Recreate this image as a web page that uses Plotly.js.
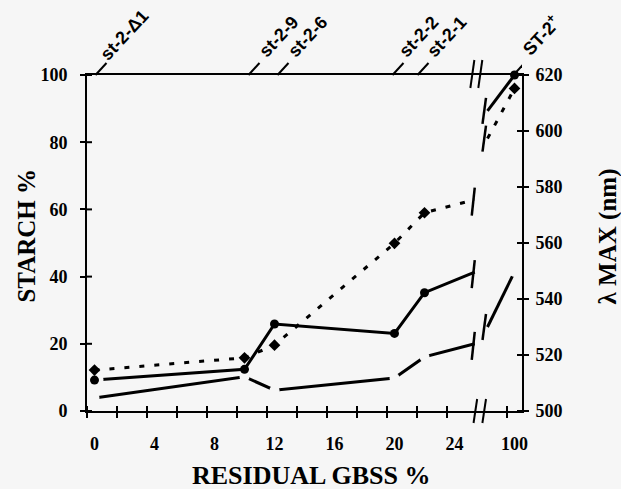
<!DOCTYPE html>
<html><head><meta charset="utf-8">
<script src="https://cdn.plot.ly/plotly-3.0.1.min.js"></script>
<style>html,body{margin:0;padding:0;background:#f6f6f6}</style>
</head><body><div id="chart" style="width:621px;height:489px"></div>
<script>
// strains and their residual GBSS (%)
const strains = ['st-2-Δ1', 'st-2-9', 'st-2-6', 'st-2-2', 'st-2-1', 'ST-2<sup>+</sup>'];
const gbss = [0, 10, 12, 20, 22, 100];
// starch amount (%) – solid line with dots (left axis)
const starchPct = [9.2, 12.4, 25.9, 23.1, 35.2, 100];
// amylose (%) – broken line (left axis)
const amylosePct = [3.9, 10.2, 6.2, 9.8, 16.1, 41.4];
// lambda max (nm) – dotted line with diamonds (right axis)
const lambdaMax = [514.6, 519.0, 523.5, 559.9, 570.8, 615.2];
// where each line meets the axis break: [before break, after break]
const breakGbss = [25.35, 96];
const starchBreak = [41.3, 89.3];
const amyloseBreak = [20.0, 25.0];
const lambdaBreak = [575.5, 597.3];
// axis ticks
const xTickValues = [0, 4, 8, 12, 16, 20, 24, 100];
const xTickLabels = ['0', '4', '8', '12', '16', '20', '24', '100'];
const xMinorValues = [0, 2, 4, 6, 8, 10, 12, 14, 16, 18, 20, 22, 24, 100];
const yLeftTicks = [0, 20, 40, 60, 80, 100];
const yRightTicks = [500, 520, 540, 560, 580, 600, 620];

// broken x axis: 0..~26 linear, the upper part (~96..100) squeezed behind the break
function pos(x) { return x > 50 ? 28 - (100 - x) * 0.45 : x; }

const BG = '#f6f6f6';
const INK = '#000000';
const serif = 'Liberation Serif, Times New Roman, serif';
const sans = 'Liberation Sans, Arial, sans-serif';

function brokenSeries(vals, brk) {
  const xs = gbss.slice(0, 5).concat([breakGbss[0], null, breakGbss[1], gbss[5]]).map(v => v === null ? null : pos(v));
  const ys = vals.slice(0, 5).concat([brk[0], null, brk[1], vals[5]]);
  return {xs, ys};
}
const am = brokenSeries(amylosePct, amyloseBreak);
const st = brokenSeries(starchPct, starchBreak);
const la = brokenSeries(lambdaMax, lambdaBreak);

const xr = [-0.5, 28.5];
const tickPos = xMinorValues.map(v => pos(v) - 0.5);

const traces = [
  {x: am.xs, y: am.ys, mode: 'lines', line: {color: INK, width: 3}, connectgaps: false, showlegend: false},
  {x: gbss.map(pos), y: amylosePct, mode: 'markers', marker: {color: BG, size: 10, line: {width: 0}}, cliponaxis: false, showlegend: false},
  {x: st.xs, y: st.ys, mode: 'lines', line: {color: INK, width: 3}, connectgaps: false, showlegend: false},
  {x: [pos(gbss[0])], y: [starchPct[0]], mode: 'markers', marker: {color: BG, size: 18, line: {width: 0}}, showlegend: false},
  {x: gbss.map(pos), y: starchPct, mode: 'markers', marker: {color: INK, size: 9, symbol: 'circle'}, cliponaxis: false, showlegend: false},
  {x: la.xs, y: la.ys, xaxis: 'x2', yaxis: 'y2', mode: 'lines', line: {color: INK, width: 3, dash: '5px,10px'}, connectgaps: false, showlegend: false},
  {x: gbss.map(pos), y: lambdaMax, xaxis: 'x2', yaxis: 'y2', mode: 'markers', marker: {color: INK, size: 9, symbol: 'diamond'}, cliponaxis: false, showlegend: false}
];

const shapes = [];
const tickLine = {color: INK, width: 2};
// inner halves of the crossing ticks
tickPos.forEach(p => shapes.push({type: 'line', xref: 'x', yref: 'paper', ysizemode: 'pixel', yanchor: 0,
  x0: p, x1: p, y0: 0, y1: 5, line: tickLine, layer: 'above'}));
yLeftTicks.forEach(v => shapes.push({type: 'line', xref: 'paper', yref: 'y', xsizemode: 'pixel', xanchor: 0,
  x0: 0, x1: 5, y0: v, y1: v, line: tickLine}));
yRightTicks.forEach(v => shapes.push({type: 'line', xref: 'paper', yref: 'y2', xsizemode: 'pixel', xanchor: 1,
  x0: -5, x1: 0, y0: v, y1: v, line: tickLine}));

function lineBreakMarks(brk, yref) {
  shapes.push({type: 'line', xref: 'x', yref: yref, xsizemode: 'pixel', ysizemode: 'pixel',
    xanchor: pos(breakGbss[0]), yanchor: brk[0], x0: -3, y0: -16, x1: 0, y1: 12, line: {color: INK, width: 2.5}});
  shapes.push({type: 'line', xref: 'x', yref: yref, xsizemode: 'pixel', ysizemode: 'pixel',
    xanchor: pos(breakGbss[1]), yanchor: brk[1], x0: -5, y0: -13, x1: -1.5, y1: 13, line: {color: INK, width: 2.5}});
}
lineBreakMarks(starchBreak, 'y');
lineBreakMarks(amyloseBreak, 'y');
lineBreakMarks(lambdaBreak, 'y2');
[25.39, 25.98].forEach(p => shapes.push({type: 'line', xref: 'x', yref: 'paper', xsizemode: 'pixel', ysizemode: 'pixel',
  xanchor: p, yanchor: 0, x0: -1.8, y0: -12, x1: 1.8, y1: 12, line: {color: INK, width: 2}}));
[25.19, 25.72].forEach(p => shapes.push({type: 'line', xref: 'x', yref: 'paper', xsizemode: 'pixel', ysizemode: 'pixel',
  xanchor: p, yanchor: 1, x0: -2, y0: -13, x1: 2, y1: 15, line: {color: INK, width: 2}}));
const leaderDx = [1, 4, 3, -2, -7, -1];
gbss.forEach((g, i) => shapes.push({type: 'line', xref: 'x', yref: 'paper', xsizemode: 'pixel', ysizemode: 'pixel',
  xanchor: pos(g), yanchor: 1, x0: leaderDx[i], y0: 0, x1: leaderDx[i] + 11, y1: 12, line: {color: INK, width: 2}}));

const labelShift = [[30, 40], [34, 38], [33, 38], [24, 38], [22, 38], [26, 40]];
const annotations = strains.map((s, i) => ({
  text: '<b>' + s + '</b>', xref: 'x', yref: 'paper', x: pos(gbss[i]), y: 1,
  xshift: labelShift[i][0], yshift: labelShift[i][1], textangle: -47, showarrow: false,
  xanchor: 'center', yanchor: 'middle', font: {family: sans, size: 18, color: INK}
}));
annotations.push(
  {text: '<b>STARCH %</b>', xref: 'paper', yref: 'paper', x: -0.138, y: 0.522, textangle: -90, showarrow: false,
   xanchor: 'center', yanchor: 'middle', font: {family: serif, size: 25, color: INK}},
  {text: '<b>RESIDUAL GBSS %</b>', xref: 'paper', yref: 'paper', x: 0.515, y: -0.193, showarrow: false,
   xanchor: 'center', yanchor: 'middle', font: {family: serif, size: 26, color: INK}},
  {text: '<b>λ MAX (nm)</b>', xref: 'paper', yref: 'paper', x: 1.198, y: 0.52, textangle: -90, showarrow: false,
   xanchor: 'center', yanchor: 'middle', font: {family: serif, size: 25, color: INK}}
);

const tickFont = {family: serif, size: 18, color: INK, weight: 'bold'};
const layout = {
  width: 621, height: 489,
  margin: {l: 87, r: 99, t: 75, b: 78},
  paper_bgcolor: BG, plot_bgcolor: BG,
  showlegend: false,
  xaxis: {
    range: xr, tickmode: 'array', tickvals: tickPos, ticks: 'outside', ticklen: 5, tickwidth: 2, tickcolor: INK,
    showticklabels: false, showline: true, linewidth: 2, linecolor: INK, mirror: true,
    showgrid: false, zeroline: false
  },
  xaxis2: {
    range: xr, overlaying: 'x', anchor: 'y2', side: 'bottom', tickmode: 'array',
    tickvals: xTickValues.map(pos), ticktext: xTickLabels, ticks: '', showline: false, showgrid: false, zeroline: false,
    tickfont: tickFont, ticklabelstandoff: 20
  },
  yaxis: {
    range: [0, 100], tickmode: 'array', tickvals: yLeftTicks, ticks: 'outside', ticklen: 5, tickwidth: 2, tickcolor: INK,
    showline: true, linewidth: 2, linecolor: INK, showgrid: false, zeroline: false,
    tickfont: tickFont, ticklabelstandoff: 9
  },
  yaxis2: {
    range: [500, 620], overlaying: 'y', anchor: 'x2', side: 'right', tickmode: 'array', tickvals: yRightTicks,
    ticks: 'outside', ticklen: 5, tickwidth: 2, tickcolor: INK,
    showline: true, linewidth: 2, linecolor: INK, showgrid: false, zeroline: false,
    tickfont: tickFont, ticklabelstandoff: 3
  },
  shapes: shapes,
  annotations: annotations
};

Plotly.newPlot('chart', traces, layout, {staticPlot: true, displayModeBar: false});
</script>
</body></html>
